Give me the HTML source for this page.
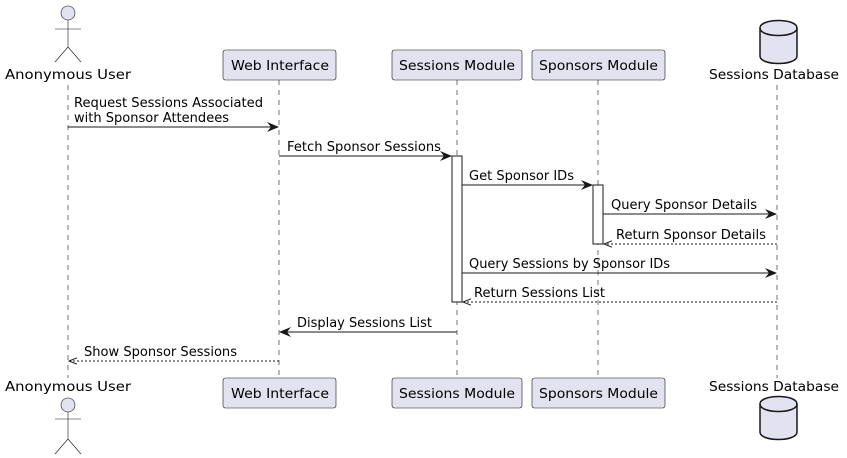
<!DOCTYPE html>
<html><head><style>body{margin:0;background:#fff}svg{display:block}</style></head><body>
<svg width="847" height="458" viewBox="0 0 847 458" xmlns="http://www.w3.org/2000/svg" font-family="DejaVu Sans, Liberation Sans, sans-serif" font-size="13">
<defs>
<marker id="a" viewBox="0 0 12 10" refX="11" refY="5" markerWidth="12" markerHeight="10" orient="auto" markerUnits="userSpaceOnUse"><path d="M0,0 L12,5 L0,10 L4,5 Z" fill="#181818"/></marker>
<marker id="o" viewBox="0 0 12 10" refX="11" refY="5" markerWidth="10" markerHeight="8" orient="auto" markerUnits="userSpaceOnUse"><path d="M1,1 L11,5 L1,9" fill="none" stroke="#181818" stroke-width="1.2"/></marker>
</defs>
<g stroke="#181818" stroke-width="0.6" stroke-dasharray="5,5">
<line x1="68" y1="85" x2="68" y2="378"/><line x1="279" y1="80" x2="279" y2="378"/><line x1="457" y1="80" x2="457" y2="378"/><line x1="598" y1="80" x2="598" y2="378"/><line x1="777" y1="85" x2="777" y2="378"/>
</g>
<g fill="#fff" stroke="#181818" stroke-width="1"><rect x="452" y="156" width="10" height="146"/><rect x="593" y="185" width="10" height="59"/></g>
<g fill="#e2e2f0" stroke="#181818" stroke-width="0.6">
<circle cx="68" cy="13" r="7"/><line x1="68" y1="20" x2="68" y2="47"/><line x1="55" y1="29" x2="81" y2="29"/><line x1="68" y1="47" x2="55" y2="62"/><line x1="68" y1="47" x2="81" y2="62"/>
<circle cx="68" cy="405" r="7"/><line x1="68" y1="412" x2="68" y2="439"/><line x1="55" y1="419" x2="81" y2="419"/><line x1="68" y1="439" x2="55" y2="454"/><line x1="68" y1="439" x2="81" y2="454"/>
<rect x="223" y="50" width="113" height="30" rx="2.5"/><rect x="392" y="50" width="130" height="30" rx="2.5"/><rect x="532" y="50" width="133" height="30" rx="2.5"/>
<rect x="223" y="378" width="113" height="30" rx="2.5"/><rect x="392" y="378" width="130" height="30" rx="2.5"/><rect x="532" y="378" width="133" height="30" rx="2.5"/>
</g>
<g fill="#e2e2f0" stroke="#181818" stroke-width="1.5">
<path d="M760,28 C760,18 797,18 797,28 L797,56 C797,66 760,66 760,56 Z"/><path d="M760,28 C760,38 797,38 797,28" fill="none"/>
<path d="M760,404 C760,394 797,394 797,404 L797,432 C797,442 760,442 760,432 Z"/><path d="M760,404 C760,414 797,414 797,404" fill="none"/>
</g>
<g fill="#000">
<text x="5" y="79" textLength="126" lengthAdjust="spacingAndGlyphs">Anonymous User</text>
<text x="231" y="70" textLength="98" lengthAdjust="spacingAndGlyphs">Web Interface</text>
<text x="399" y="70" textLength="116" lengthAdjust="spacingAndGlyphs">Sessions Module</text>
<text x="539" y="70" textLength="119" lengthAdjust="spacingAndGlyphs">Sponsors Module</text>
<text x="709" y="79" textLength="130" lengthAdjust="spacingAndGlyphs">Sessions Database</text>
<text x="5" y="391" textLength="126" lengthAdjust="spacingAndGlyphs">Anonymous User</text>
<text x="231" y="398" textLength="98" lengthAdjust="spacingAndGlyphs">Web Interface</text>
<text x="399" y="398" textLength="116" lengthAdjust="spacingAndGlyphs">Sessions Module</text>
<text x="539" y="398" textLength="119" lengthAdjust="spacingAndGlyphs">Sponsors Module</text>
<text x="709" y="391" textLength="130" lengthAdjust="spacingAndGlyphs">Sessions Database</text>
</g>
<g stroke="#181818" stroke-width="1" fill="none">
<line x1="68" y1="127" x2="278" y2="127" marker-end="url(#a)"/>
<line x1="279" y1="156" x2="451" y2="156" marker-end="url(#a)"/>
<line x1="462" y1="185" x2="592" y2="185" marker-end="url(#a)"/>
<line x1="603" y1="214" x2="776" y2="214" marker-end="url(#a)"/>
<line x1="777" y1="244" x2="604" y2="244" stroke-dasharray="2,2" marker-end="url(#o)"/>
<line x1="462" y1="273" x2="776" y2="273" marker-end="url(#a)"/>
<line x1="777" y1="302" x2="463" y2="302" stroke-dasharray="2,2" marker-end="url(#o)"/>
<line x1="457" y1="332" x2="280" y2="332" marker-end="url(#a)"/>
<line x1="279" y1="361" x2="69" y2="361" stroke-dasharray="2,2" marker-end="url(#o)"/>
</g>
<g fill="#000">
<text x="74" y="107" textLength="189" lengthAdjust="spacingAndGlyphs">Request Sessions Associated</text>
<text x="74" y="122" textLength="155" lengthAdjust="spacingAndGlyphs">with Sponsor Attendees</text>
<text x="287" y="151" textLength="154" lengthAdjust="spacingAndGlyphs">Fetch Sponsor Sessions</text>
<text x="469" y="180" textLength="105" lengthAdjust="spacingAndGlyphs">Get Sponsor IDs</text>
<text x="611" y="209" textLength="146" lengthAdjust="spacingAndGlyphs">Query Sponsor Details</text>
<text x="616" y="239" textLength="150" lengthAdjust="spacingAndGlyphs">Return Sponsor Details</text>
<text x="469" y="268" textLength="201" lengthAdjust="spacingAndGlyphs">Query Sessions by Sponsor IDs</text>
<text x="474" y="297" textLength="131" lengthAdjust="spacingAndGlyphs">Return Sessions List</text>
<text x="297" y="327" textLength="135" lengthAdjust="spacingAndGlyphs">Display Sessions List</text>
<text x="84" y="356" textLength="153" lengthAdjust="spacingAndGlyphs">Show Sponsor Sessions</text>
</g>
</svg>
</body></html>
